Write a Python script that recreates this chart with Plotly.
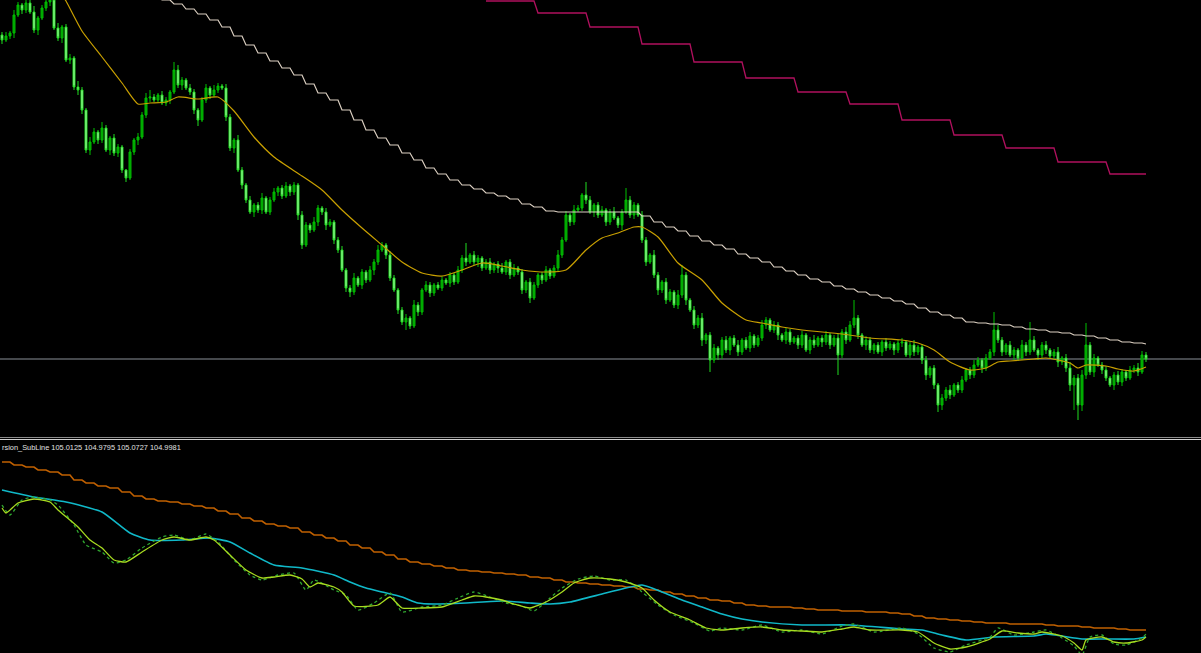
import plotly.graph_objects as go

W, H = 1201, 653

# ---------------- main window data (price) ----------------
first_open = 108.24
closes = [
    108.19,108.23,108.26,108.44,108.54,108.49,108.56,108.47,108.29,108.41,
    108.51,108.57,108.59,108.31,108.21,108.32,107.99,108.01,107.72,107.69,
    107.49,107.09,107.17,107.27,107.19,107.31,107.09,107.21,107.06,107.12,
    106.89,106.81,107.07,107.19,107.22,107.44,107.61,107.62,107.59,107.64,
    107.56,107.59,107.67,107.89,107.74,107.79,107.71,107.67,107.49,107.39,
    107.59,107.71,107.64,107.69,107.73,107.71,107.42,107.11,107.19,106.89,
    106.74,106.59,106.47,106.54,106.49,106.61,106.47,106.59,106.67,106.71,
    106.63,106.73,106.67,106.74,106.44,106.14,106.34,106.29,106.37,106.51,
    106.47,106.34,106.37,106.19,106.09,105.89,105.71,105.67,105.81,105.74,
    105.87,105.79,105.89,105.97,106.09,106.14,106.04,105.81,105.69,105.49,
    105.37,105.41,105.33,105.54,105.47,105.69,105.74,105.66,105.74,105.71,
    105.79,105.76,105.84,105.77,105.89,106.01,105.97,106.04,105.97,106.01,
    105.91,105.97,105.89,105.95,105.91,105.87,105.97,105.84,105.91,105.87,
    105.69,105.77,105.61,105.74,105.84,105.79,105.89,105.83,105.91,106.04,
    106.19,106.44,106.37,106.49,106.51,106.64,106.59,106.47,106.54,106.44,
    106.49,106.37,106.47,106.41,106.34,106.47,106.59,106.44,106.54,106.44,
    106.19,105.97,106.04,105.84,105.69,105.77,105.59,105.67,105.54,105.64,
    105.84,105.59,105.49,105.34,105.41,105.19,105.24,104.99,105.11,105.04,
    105.19,105.09,105.21,105.14,105.07,105.19,105.11,105.23,105.14,105.21,
    105.34,105.39,105.29,105.34,105.24,105.19,105.27,105.17,105.21,105.14,
    105.24,105.09,105.19,105.14,105.21,105.17,105.24,105.14,105.21,105.04,
    105.27,105.19,105.34,105.41,105.24,105.14,105.19,105.09,105.14,105.07,
    105.17,105.11,105.15,105.09,105.16,105.17,105.04,105.14,105.07,105.12,
    104.99,104.84,104.91,104.74,104.54,104.61,104.69,104.64,104.74,104.69,
    104.79,104.89,104.84,104.94,104.99,104.91,105.01,105.07,105.29,105.19,
    105.07,105.14,105.04,105.09,105.01,105.14,105.07,105.19,105.09,105.04,
    105.14,105.09,105.03,105.07,104.97,105.01,104.91,104.74,104.81,104.54,
    104.84,105.14,104.87,105.01,104.94,104.89,104.81,104.74,104.84,104.77,
    104.87,104.81,104.89,104.91,104.87,105.04,105.00,
]
upper_wick = [
    .03,.04,.02,.05,.03,.02,.04,.03,.06,.02,
    .03,.02,.04,.03,.05,.02,.03,.04,.02,.06,
    .03,.02,.05,.04,.02,.06,.03,.02,.04,.03,
    .02,.01,.03,.02,.04,.03,.05,.07,.03,.02,
    .04,.03,.02,.08,.05,.03,.02,.04,.03,.02,
    .03,.04,.02,.05,.03,.02,.04,.03,.02,.05,
    .03,.02,.04,.02,.03,.05,.02,.03,.04,.02,
    .03,.04,.02,.03,.02,.04,.03,.02,.05,.03,
    .02,.04,.03,.02,.03,.04,.02,.03,.05,.02,
    .03,.02,.04,.03,.05,.03,.02,.04,.03,.02,
    .03,.04,.02,.05,.03,.02,.04,.03,.02,.03,
    .04,.02,.03,.02,.04,.03,.15,.02,.04,.03,
    .02,.03,.04,.02,.03,.05,.02,.03,.04,.02,
    .03,.02,.04,.03,.02,.03,.04,.02,.03,.05,
    .03,.04,.02,.05,.03,.02,.13,.04,.02,.03,
    .04,.02,.03,.05,.02,.03,.12,.04,.03,.02,
    .04,.03,.02,.05,.03,.02,.04,.03,.02,.05,
    .10,.03,.02,.04,.03,.05,.02,.03,.04,.02,
    .03,.04,.02,.03,.05,.02,.03,.04,.02,.03,
    .05,.03,.02,.04,.03,.02,.04,.03,.02,.03,
    .04,.02,.03,.05,.02,.03,.04,.02,.03,.04,
    .03,.05,.04,.18,.03,.02,.04,.03,.02,.03,
    .02,.04,.03,.02,.03,.04,.02,.03,.05,.02,
    .03,.04,.02,.03,.02,.04,.03,.05,.02,.03,
    .04,.02,.03,.05,.03,.02,.04,.03,.18,.05,
    .03,.02,.04,.03,.02,.05,.03,.18,.04,.02,
    .03,.04,.02,.03,.05,.02,.04,.06,.03,.04,
    .05,.22,.03,.04,.02,.03,.04,.02,.03,.04,
    .03,.02,.04,.03,.05,.04,.03,
]
lower_wick = [
    .04,.02,.03,.05,.02,.04,.03,.02,.03,.05,
    .02,.03,.04,.02,.03,.05,.02,.04,.03,.05,
    .04,.03,.05,.02,.04,.03,.02,.05,.03,.04,
    .03,.04,.02,.03,.05,.02,.03,.04,.02,.03,
    .02,.03,.04,.02,.03,.05,.02,.03,.04,.06,
    .02,.03,.04,.02,.03,.02,.04,.03,.05,.02,
    .04,.03,.02,.05,.03,.04,.02,.03,.02,.04,
    .03,.02,.04,.03,.05,.04,.02,.03,.02,.04,
    .03,.05,.02,.04,.03,.02,.04,.05,.03,.02,
    .04,.03,.02,.05,.03,.02,.04,.03,.02,.04,
    .03,.08,.03,.02,.04,.03,.02,.04,.03,.02,
    .03,.02,.04,.03,.02,.03,.04,.02,.03,.05,
    .03,.02,.04,.03,.05,.02,.03,.04,.02,.03,
    .04,.03,.05,.02,.03,.04,.02,.03,.02,.04,
    .03,.02,.04,.03,.02,.03,.04,.02,.05,.03,
    .02,.04,.03,.02,.03,.05,.02,.03,.04,.02,
    .03,.04,.02,.03,.05,.03,.04,.02,.03,.04,
    .03,.05,.02,.04,.03,.06,.04,.12,.03,.05,
    .04,.03,.05,.02,.04,.03,.02,.04,.03,.02,
    .03,.04,.02,.03,.05,.02,.04,.03,.02,.04,
    .03,.02,.04,.03,.02,.05,.03,.04,.02,.20,
    .03,.04,.02,.03,.04,.02,.05,.03,.04,.02,
    .04,.03,.02,.05,.03,.04,.02,.03,.04,.03,
    .04,.05,.03,.04,.07,.05,.03,.04,.02,.03,
    .03,.02,.04,.03,.02,.05,.03,.02,.04,.03,
    .04,.03,.02,.05,.03,.02,.04,.03,.02,.05,
    .03,.04,.02,.03,.05,.03,.04,.06,.25,.15,
    .06,.04,.03,.05,.02,.04,.03,.02,.05,.03,
    .04,.03,.02,.03,.04,.02,.03,
]

# yellow moving average (bar index, price)
ma_bars = [15,16,20,25,30,34,37,41,44,49,54,58,63,68,75,80,85,90,95,100,105,110,115,120,125,
           130,136,141,146,150,154,158,160,164,169,175,180,186,190,195,200,210,217,225,229,233,
           237,242,246,249,252,258,261,264,267,269,271,276,279,283,286]
ma_vals = [108.64,108.58,108.28,108.02,107.76,107.55,107.56,107.57,107.62,107.60,107.62,107.48,
           107.22,107.02,106.83,106.69,106.49,106.31,106.14,105.97,105.86,105.83,105.89,105.96,
           105.93,105.89,105.87,105.89,106.09,106.21,106.26,106.32,106.32,106.22,105.96,105.79,
           105.56,105.39,105.36,105.32,105.29,105.25,105.21,105.19,105.16,105.09,104.97,104.89,
           104.91,104.97,104.98,105.00,105.01,104.99,104.96,104.91,104.94,104.93,104.90,104.88,
           104.92]

# light stepped line (higher time-frame MA), one value per 3 bars from bar 37
white_first_bar = 37
white_vals = [108.64,
    108.59,108.55,108.50,108.45,108.39,108.32,108.23,108.14,108.06,107.98,
    107.91,107.84,107.75,107.66,107.59,107.49,107.39,107.29,107.21,107.14,
    107.06,106.99,106.91,106.85,106.79,106.74,106.70,106.66,106.63,106.60,
    106.55,106.52,106.48,106.47,106.47,106.47,106.47,106.47,106.47,106.47,
    106.43,106.37,106.32,106.28,106.23,106.18,106.14,106.10,106.05,106.01,
    105.97,105.92,105.88,105.84,105.80,105.77,105.73,105.70,105.67,105.64,
    105.61,105.58,105.55,105.51,105.47,105.44,105.41,105.37,105.36,105.35,
    105.34,105.32,105.30,105.29,105.27,105.26,105.24,105.23,105.21,105.19,
    105.17,105.16,105.15]

# magenta stepped line, one value per 13 bars from bar 121
magenta_first_bar = 121
magenta_vals = [108.58,108.46,108.32,108.15,107.97,107.81,107.67,107.55,107.39,107.24,107.11,106.97,106.85]

# ---------------- sub window data ----------------
sub_label = "rsion_SubLine 105.0125 104.9795 105.0727 104.9981"

orange_vals = [
    106.75,106.72,106.70,106.67,106.65,106.62,106.57,106.54,106.51,106.49,
    106.45,106.41,106.38,106.36,106.35,106.33,106.31,106.29,106.26,106.23,
    106.19,106.16,106.13,106.11,106.09,106.05,106.02,105.99,105.96,105.92,
    105.89,105.85,105.82,105.78,105.75,105.73,105.71,105.69,105.67,105.66,
    105.65,105.64,105.63,105.62,105.60,105.59,105.57,105.55,105.54,105.53,
    105.52,105.51,105.50,105.48,105.47,105.45,105.43,105.41,105.39,105.37,
    105.36,105.34,105.32,105.31,105.30,105.30,105.29,105.28,105.27,105.27,
    105.26,105.26,105.25,105.25,105.24,105.23,105.21,105.19,105.18,105.17,
    105.16,105.15,105.14,105.14,105.13,105.13,105.13,105.12,105.11,105.11,
    105.10,105.09,105.09,105.08,105.07,105.07]

cyan_bars = [0,8,16,25,32,37,45,52,57,62,68,75,83,87,91,95,100,104,108,116,125,132,137,142,150,
             155,160,165,170,175,180,185,190,200,212,225,230,235,241,248,258,261,270,276,283,286]
cyan_vals = [106.47,106.40,106.35,106.25,106.04,105.97,105.97,105.99,105.95,105.84,105.72,105.69,
             105.62,105.55,105.49,105.45,105.40,105.34,105.33,105.34,105.36,105.34,105.33,105.35,
             105.43,105.48,105.52,105.45,105.37,105.30,105.23,105.18,105.15,105.12,105.12,105.08,
             105.07,105.02,104.97,105.00,105.01,105.03,104.98,104.98,104.98,105.00]

green_bars = [0,1,4,8,12,14,19,22,25,28,31,35,40,43,47,51,53,57,61,65,68,72,75,77,79,83,85,88,94,
              97,100,105,110,115,118,121,125,128,132,136,140,143,147,152,156,160,163,167,172,176,
              180,185,190,195,200,205,210,213,217,225,229,233,237,241,247,250,254,258,260,265,268,
              270,271,275,278,281,285,286]
green_vals = [106.29,106.24,106.34,106.38,106.35,106.27,106.10,105.97,105.89,105.77,105.75,105.85,
              105.97,106.00,105.97,106.00,105.97,105.82,105.67,105.59,105.60,105.62,105.58,105.50,
              105.54,105.50,105.45,105.31,105.32,105.40,105.29,105.29,105.30,105.37,105.41,105.40,
              105.37,105.33,105.29,105.35,105.45,105.54,105.59,105.58,105.55,105.49,105.37,105.25,
              105.17,105.09,105.07,105.09,105.10,105.07,105.06,105.05,105.08,105.10,105.07,105.07,
              105.05,104.94,104.88,104.90,104.98,105.06,105.04,105.03,105.05,105.01,104.94,104.87,
              104.97,105.00,104.95,104.94,104.97,105.00]

dash_bars = [0,2,5,8,12,14,18,21,25,28,31,35,40,43,47,51,54,58,62,65,69,73,76,78,83,86,89,93,97,
             100,105,110,114,118,122,126,130,133,137,140,144,148,152,156,160,164,168,173,177,180,
             185,190,195,200,205,210,213,218,225,229,233,237,241,247,249,253,258,261,265,268,270,
             272,275,278,281,285,286]
dash_vals = [106.32,106.22,106.37,106.40,106.37,106.32,106.12,105.92,105.85,105.74,105.77,105.89,
             106.00,106.02,105.97,106.03,105.95,105.77,105.62,105.57,105.62,105.64,105.47,105.57,
             105.47,105.42,105.27,105.34,105.44,105.25,105.30,105.32,105.39,105.45,105.40,105.34,
             105.31,105.26,105.39,105.49,105.58,105.61,105.57,105.57,105.45,105.32,105.22,105.14,
             105.06,105.09,105.07,105.12,105.05,105.07,105.03,105.11,105.13,105.05,105.09,105.03,
             104.89,104.85,104.92,105.00,105.09,105.02,105.05,105.07,104.99,104.91,104.82,105.00,
             105.02,104.93,104.92,104.99,105.03]

# ---------------- derived OHLC ----------------
n = len(closes)
bars = list(range(n))
opens = [first_open] + closes[:-1]
highs = [max(o, c) + u for o, c, u in zip(opens, closes, upper_wick)]
lows = [min(o, c) - l for o, c, l in zip(opens, closes, lower_wick)]
last_bar = n - 1


def step_path(first_bar, period, values, end_bar):
    xs, ys = [], []
    for k, v in enumerate(values):
        s = first_bar + period * k
        e = s + period - 1 if k + 1 < len(values) else end_bar
        e = min(e, end_bar)
        xs += [s, e]
        ys += [v, v]
    return xs, ys


fig = go.Figure()

fig.add_trace(go.Candlestick(
    x=bars, open=opens, high=highs, low=lows, close=closes,
    increasing=dict(line=dict(color="#00c000", width=1), fillcolor="#009c00"),
    decreasing=dict(line=dict(color="#20dc20", width=1), fillcolor="#b8ffb8"),
    whiskerwidth=0, xaxis="x", yaxis="y", hoverinfo="skip"))

wx, wy = step_path(white_first_bar, 3, white_vals, last_bar)
fig.add_trace(go.Scatter(x=wx, y=wy, mode="lines", line=dict(color="#dcd0c2", width=1.2),
                         xaxis="x", yaxis="y", hoverinfo="skip"))
mx, my = step_path(magenta_first_bar, 13, magenta_vals, last_bar)
fig.add_trace(go.Scatter(x=mx, y=my, mode="lines", line=dict(color="#b0105e", width=1.3),
                         xaxis="x", yaxis="y", hoverinfo="skip"))
fig.add_trace(go.Scatter(x=ma_bars, y=ma_vals, mode="lines",
                         line=dict(color="#c9a000", width=1.2, shape="spline", smoothing=0.6),
                         xaxis="x", yaxis="y", hoverinfo="skip"))

# sub window
ox, oy = step_path(0, 3, orange_vals, last_bar)
fig.add_trace(go.Scatter(x=ox, y=oy, mode="lines", line=dict(color="#c06000", width=1.6),
                         xaxis="x2", yaxis="y2", hoverinfo="skip"))
fig.add_trace(go.Scatter(x=cyan_bars, y=cyan_vals, mode="lines",
                         line=dict(color="#10b8c8", width=1.6, shape="spline", smoothing=0.5),
                         xaxis="x2", yaxis="y2", hoverinfo="skip"))
fig.add_trace(go.Scatter(x=dash_bars, y=dash_vals, mode="lines",
                         line=dict(color="#30a830", width=1.3, dash="dot", shape="spline", smoothing=0.5),
                         xaxis="x2", yaxis="y2", hoverinfo="skip"))
fig.add_trace(go.Scatter(x=green_bars, y=green_vals, mode="lines",
                         line=dict(color="#a8dc20", width=1.3, shape="spline", smoothing=0.5),
                         xaxis="x2", yaxis="y2", hoverinfo="skip"))


def py(px):
    return 1 - px / H

x_range = [-0.5, W / 4 - 0.5]
axis_off = dict(visible=False, showgrid=False, zeroline=False, fixedrange=True)

fig.update_layout(
    width=W, height=H, margin=dict(l=0, r=0, t=0, b=0),
    paper_bgcolor="#000000", plot_bgcolor="#000000", showlegend=False,
    xaxis=dict(domain=[0, 1], range=x_range, anchor="y", rangeslider=dict(visible=False), **axis_off),
    yaxis=dict(domain=[py(436), 1], range=[104.23, 108.59], anchor="x", **axis_off),
    xaxis2=dict(domain=[0, 1], range=x_range, anchor="y2", **axis_off),
    yaxis2=dict(domain=[0, py(441)], range=[104.84, 106.96], anchor="x2", **axis_off),
    shapes=[
        dict(type="line", xref="paper", x0=0, x1=1, yref="y", y0=closes[-1], y1=closes[-1],
             line=dict(color="#8a9098", width=1), layer="below"),
        dict(type="line", xref="paper", x0=0, x1=1, yref="paper", y0=py(437.5), y1=py(437.5),
             line=dict(color="#8c8c8c", width=1)),
        dict(type="line", xref="paper", x0=0, x1=1, yref="paper", y0=py(439.5), y1=py(439.5),
             line=dict(color="#d0d0d0", width=1)),
    ],
    annotations=[dict(text=sub_label, xref="paper", yref="paper", x=0, y=py(447),
                      xanchor="left", yanchor="middle", showarrow=False,
                      font=dict(family="Liberation Sans, Arial", size=7.4, color="#e0e0e0"))],
)

fig.write_html("out.html", config={"displayModeBar": False},
               post_script="document.body.style.margin='0';document.body.style.background='#000';"
                           "document.body.style.overflow='hidden';")
